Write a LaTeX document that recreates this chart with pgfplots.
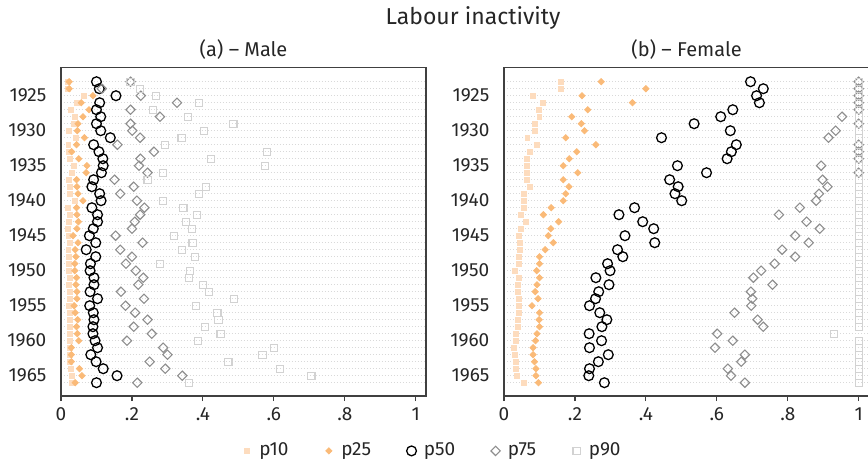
\documentclass[border=0pt]{standalone}
\usepackage{pgfplots}
\pgfplotsset{compat=1.18}
\usepackage{pgfplotstable}
\usepackage{fontspec}
\setmainfont{Fira Sans}

\definecolor{pten}{HTML}{FDDCBE}
\definecolor{ptwentyfive}{HTML}{FABA78}
\definecolor{pseventyfive}{HTML}{8E8E8E}
\definecolor{pninety}{HTML}{D2D2D2}
\definecolor{framecol}{HTML}{404040}
\definecolor{txt}{HTML}{262626}

% male cohorts
\pgfplotstableread{
year p10 p25 p50 p75 p90
1923 0.020 0.023 0.100 0.196 0.196
1924 0.020 0.023 0.108 0.115 0.222
1925 0.064 0.090 0.155 0.225 0.267
1926 0.045 0.057 0.109 0.327 0.389
1927 0.027 0.079 0.100 0.196 0.260
1928 0.040 0.062 0.112 0.279 0.359
1929 0.036 0.048 0.100 0.196 0.486
1930 0.023 0.046 0.112 0.201 0.404
1931 0.042 0.066 0.139 0.223 0.340
1932 0.021 0.044 0.092 0.159 0.294
1933 0.022 0.030 0.107 0.262 0.580
1934 0.025 0.050 0.118 0.224 0.423
1935 0.037 0.073 0.119 0.220 0.576
1936 0.030 0.071 0.114 0.244 0.288
1937 0.023 0.044 0.092 0.151 0.244
1938 0.024 0.045 0.087 0.205 0.409
1939 0.025 0.048 0.109 0.167 0.390
1940 0.039 0.062 0.113 0.214 0.288
1941 0.020 0.044 0.087 0.235 0.345
1942 0.024 0.045 0.103 0.223 0.383
1943 0.023 0.049 0.103 0.208 0.352
1944 0.020 0.045 0.091 0.200 0.370
1945 0.021 0.034 0.080 0.154 0.318
1946 0.026 0.048 0.098 0.230 0.371
1947 0.021 0.040 0.071 0.167 0.342
1948 0.022 0.042 0.098 0.200 0.378
1949 0.022 0.039 0.083 0.183 0.280
1950 0.022 0.039 0.082 0.211 0.363
1951 0.024 0.044 0.093 0.232 0.361
1952 0.023 0.042 0.093 0.218 0.400
1953 0.024 0.045 0.082 0.169 0.417
1954 0.024 0.045 0.103 0.234 0.488
1955 0.023 0.037 0.081 0.182 0.380
1956 0.024 0.040 0.091 0.209 0.441
1957 0.026 0.047 0.093 0.244 0.444
1958 0.025 0.044 0.090 0.205 0.405
1959 0.025 0.046 0.090 0.256 0.450
1960 0.026 0.050 0.096 0.186 0.387
1961 0.025 0.029 0.103 0.288 0.600
1962 0.025 0.029 0.084 0.300 0.568
1963 0.025 0.029 0.099 0.250 0.472
1964 0.028 0.052 0.119 0.294 0.617
1965 0.031 0.059 0.158 0.342 0.706
1966 0.031 0.040 0.100 0.215 0.361
}\male

% female cohorts
\pgfplotstableread{
year p10 p25 p50 p75 p90
1923 0.160 0.274 0.695 1.000 1.000
1924 0.160 0.400 0.731 1.000 1.000
1925 0.081 0.220 0.712 1.000 1.000
1926 0.110 0.362 0.720 1.000 1.000
1927 0.099 0.236 0.645 1.000 1.000
1928 0.100 0.191 0.611 0.953 1.000
1929 0.088 0.218 0.536 1.000 1.000
1930 0.087 0.227 0.638 0.935 1.000
1931 0.066 0.174 0.444 0.915 1.000
1932 0.093 0.259 0.655 1.000 1.000
1933 0.074 0.205 0.641 1.000 1.000
1934 0.064 0.184 0.629 1.000 1.000
1935 0.064 0.167 0.489 0.894 1.000
1936 0.064 0.208 0.571 1.000 1.000
1937 0.065 0.167 0.467 0.898 1.000
1938 0.072 0.183 0.491 0.912 1.000
1939 0.057 0.174 0.482 0.888 1.000
1940 0.057 0.167 0.501 0.880 1.000
1941 0.057 0.133 0.368 0.834 1.000
1942 0.048 0.111 0.324 0.775 1.000
1943 0.061 0.154 0.391 0.853 1.000
1944 0.047 0.132 0.422 0.890 1.000
1945 0.043 0.125 0.341 0.821 1.000
1946 0.045 0.139 0.425 0.859 1.000
1947 0.045 0.116 0.320 0.784 1.000
1948 0.043 0.100 0.335 0.821 1.000
1949 0.043 0.100 0.292 0.763 1.000
1950 0.031 0.092 0.299 0.725 1.000
1951 0.043 0.100 0.259 0.703 1.000
1952 0.040 0.093 0.296 0.757 1.000
1953 0.040 0.088 0.267 0.696 1.000
1954 0.043 0.096 0.258 0.700 1.000
1955 0.043 0.079 0.241 0.697 1.000
1956 0.041 0.100 0.270 0.650 1.000
1957 0.039 0.099 0.290 0.715 1.000
1958 0.039 0.100 0.276 0.731 1.000
1959 0.034 0.093 0.240 0.601 0.930
1960 0.034 0.089 0.275 0.645 1.000
1961 0.029 0.082 0.241 0.595 1.000
1962 0.031 0.082 0.294 0.679 1.000
1963 0.033 0.086 0.266 0.669 1.000
1964 0.033 0.090 0.241 0.631 1.000
1965 0.037 0.090 0.239 0.640 1.000
1966 0.057 0.097 0.283 0.679 1.000
}\female

\pgfplotsset{
  panel/.style={
    scale only axis, width=182.5pt, height=164.35pt,
    anchor=south west,
    xmin=0, xmax=1.029, ymin=1920.94, ymax=1967.9, y dir=reverse,
    xtick={0,0.2,0.4,0.6,0.8,1}, xticklabels={0,.2,.4,.6,.8,1},
    ytick={1925,1930,...,1965},
    yticklabels={1925,1930,1935,1940,1945,1950,1955,1960,1965},
    minor ytick={1923,...,1966},
    ymajorgrids, yminorgrids,
    grid style={draw=gray!30, line width=0.5pt, dash pattern=on 0.6pt off 0.9pt},
    minor grid style={draw=gray!30, line width=0.5pt, dash pattern=on 0.6pt off 0.9pt},
    axis line style={draw=framecol, line width=0.6pt},
    tick align=outside, xtick pos=bottom, ytick pos=left,
    major tick length=2.5pt, minor tick length=0pt,
    xtick style={draw=framecol, line width=0.6pt},
    ytick style={draw=none},
    ticklabel style={font=\fontsize{9.5}{11}\selectfont, text=txt},
    yticklabel style={xshift=-1.3pt},
    clip=false,
  },
  s10/.style={only marks, mark=square*, mark size=1.2pt,
    mark options={draw=pten, fill=pten}},
  s25/.style={only marks, mark=square*, mark size=1.1pt,
    mark options={rotate=45, draw=ptwentyfive, fill=ptwentyfive}},
  s50/.style={only marks, mark=o, mark size=2.45pt,
    mark options={draw=black, line width=0.65pt}},
  s75/.style={only marks, mark=square, mark size=1.65pt,
    mark options={rotate=45, draw=pseventyfive, line width=0.55pt}},
  s90/.style={only marks, mark=square, mark size=1.8pt,
    mark options={draw=pninety, line width=0.55pt}},
}

\begin{document}
\begin{tikzpicture}
\begin{axis}[panel, at={(30.5pt,35pt)},
  legend columns=5,
  legend style={draw=none, fill=none, at={(axis description cs:1.018,-0.167)},
    anchor=center, font=\fontsize{9.5}{11}\selectfont, text=txt,
    /tikz/every odd column/.append style={column sep=1pt},
    /tikz/every even column/.append style={column sep=15pt}},
  legend image code/.code={\path (-3pt,0pt) (3pt,0pt); \draw[#1] plot coordinates {(0pt,0pt)};},
]
  \addplot[s10] table[x=p10, y=year] {\male};
  \addplot[s25] table[x=p25, y=year] {\male};
  \addplot[s50] table[x=p50, y=year] {\male};
  \addplot[s75] table[x=p75, y=year] {\male};
  \addplot[s90] table[x=p90, y=year] {\male};
  \legend{p10,p25,p50,p75,p90}
\end{axis}

\begin{axis}[panel, at={(252pt,35pt)}]
  \addplot[s10] table[x=p10, y=year] {\female};
  \addplot[s25] table[x=p25, y=year] {\female};
  \addplot[s50] table[x=p50, y=year] {\female};
  \addplot[s75] table[x=p75, y=year] {\female};
  \addplot[s90] table[x=p90, y=year] {\female};
\end{axis}

\node[anchor=base, text=txt, font=\fontsize{11.5}{13}\selectfont] at (236.5pt,220.5pt) {Labour inactivity};
\node[anchor=base, text=txt, font=\fontsize{10}{12}\selectfont] at (121.75pt,204.65pt) {(a) -- Male};
\node[anchor=base, text=txt, font=\fontsize{10}{12}\selectfont] at (343.25pt,204.65pt) {(b) -- Female};

\pgfresetboundingbox
\path[use as bounding box] (0pt,0pt) rectangle (434pt,233pt);
\end{tikzpicture}
\end{document}
